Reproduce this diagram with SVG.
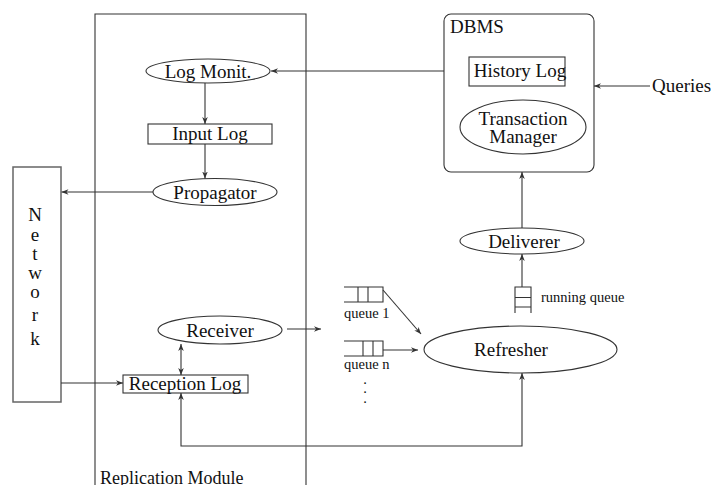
<svg xmlns="http://www.w3.org/2000/svg" width="711" height="485" viewBox="0 0 711 485">
<defs>
<marker id="ah" viewBox="0 0 10 10" refX="10" refY="5" markerWidth="7" markerHeight="7" markerUnits="userSpaceOnUse" orient="auto-start-reverse">
<path d="M0,1 L10,5 L0,9 L3,5 Z" fill="#333"/>
</marker>
<style>
.s{fill:none;stroke:#333;stroke-width:1.1}
.n{fill:#fff;stroke:#333;stroke-width:1.1}
.c{fill:none;stroke:#333;stroke-width:1.1;marker-end:url(#ah)}
.t{font-family:"Liberation Serif","Times New Roman",serif;font-size:19px;fill:#111}
.m{text-anchor:middle}
.sm{font-family:"Liberation Serif","Times New Roman",serif;font-size:14.5px;fill:#111}
</style>
</defs>
<rect width="711" height="485" fill="#fff"/>

<g id="replication-module">
<path class="s" d="M95,486 V14 H306 V486"/>
<text class="t" x="100" y="484" style="font-size:18px">Replication Module</text>
</g>

<g id="network">
<rect x="13" y="167" width="48" height="235" fill="#fff" stroke="#666" stroke-width="1.5"/>
<text class="t m" x="35" y="221">N</text>
<text class="t m" x="35" y="241">e</text>
<text class="t m" x="35" y="260">t</text>
<text class="t m" x="35" y="279">w</text>
<text class="t m" x="35" y="298">o</text>
<text class="t m" x="35" y="321">r</text>
<text class="t m" x="35" y="345">k</text>
</g>

<g id="log-monit">
<ellipse class="n" cx="208" cy="71" rx="62" ry="12"/>
<text class="t m" x="208" y="78">Log Monit.</text>
</g>

<g id="input-log">
<rect class="n" x="148" y="124" width="124" height="20"/>
<text class="t m" x="210" y="140">Input Log</text>
</g>

<g id="propagator">
<ellipse class="n" cx="215" cy="192" rx="62" ry="13.5"/>
<text class="t m" x="215" y="199">Propagator</text>
</g>

<g id="receiver">
<ellipse class="n" cx="220" cy="330" rx="62" ry="14"/>
<text class="t m" x="220" y="337">Receiver</text>
</g>

<g id="reception-log">
<rect class="n" x="123" y="375" width="125" height="18"/>
<text class="t m" x="185" y="390">Reception Log</text>
</g>

<g id="dbms">
<rect class="n" x="444" y="14" width="150" height="158" rx="7" ry="7"/>
<text class="t" x="450" y="33">DBMS</text>
</g>

<g id="history-log">
<rect class="n" x="469" y="57" width="96" height="29"/>
<text class="t m" x="520" y="77">History Log</text>
</g>

<g id="transaction-manager">
<ellipse class="n" cx="523" cy="127" rx="63" ry="27"/>
<text class="t m" x="523" y="125">Transaction<tspan x="523" dy="18">Manager</tspan></text>
</g>

<g id="queries">
<text class="t" x="652" y="92">Queries</text>
</g>

<g id="deliverer">
<ellipse class="n" cx="522" cy="241" rx="62" ry="13"/>
<text class="t m" x="524" y="248">Deliverer</text>
</g>

<g id="running-queue">
<path class="s" d="M515,313 V287 H531 V313 M515,297.5 H531 M515,307 H531"/>
<text class="sm" x="541" y="302">running queue</text>
</g>

<g id="queue-1">
<path class="s" d="M344,287 H383 V302 H344 M358,287 V302 M368,287 V302"/>
<text class="sm" x="344" y="318">queue 1</text>
</g>

<g id="queue-n">
<path class="s" d="M344,341 H383 V356 H344 M363,341 V356 M373,341 V356"/>
<text class="sm" x="344" y="369">queue n</text>
<text class="sm m" x="365" y="384">.<tspan x="365" dy="9">.</tspan><tspan x="365" dy="10">.</tspan></text>
</g>

<g id="refresher">
<ellipse class="n" cx="520.5" cy="349.5" rx="96.5" ry="23.5"/>
<text class="t m" x="511" y="356">Refresher</text>
</g>

<g id="connectors">
<line class="c" x1="444" y1="71" x2="271" y2="71"/>
<line class="c" x1="205" y1="83" x2="205" y2="124"/>
<line class="c" x1="205" y1="144" x2="205" y2="178.5"/>
<line class="c" x1="153" y1="192" x2="61.5" y2="192"/>
<line class="c" x1="61" y1="383" x2="123" y2="383"/>
<line class="c" x1="181" y1="344" x2="181" y2="375" style="marker-start:url(#ah)"/>
<line class="c" x1="287" y1="329" x2="321" y2="329"/>
<line class="c" x1="383" y1="290" x2="421" y2="334"/>
<line class="c" x1="383" y1="350" x2="418" y2="350"/>
<path class="c" d="M181,393 V446 H522 V373" style="marker-start:url(#ah)"/>
<line class="c" x1="522" y1="287" x2="522" y2="254"/>
<line class="c" x1="522" y1="228" x2="522" y2="172"/>
<line class="c" x1="650" y1="86" x2="594" y2="86"/>
</g>
</svg>
